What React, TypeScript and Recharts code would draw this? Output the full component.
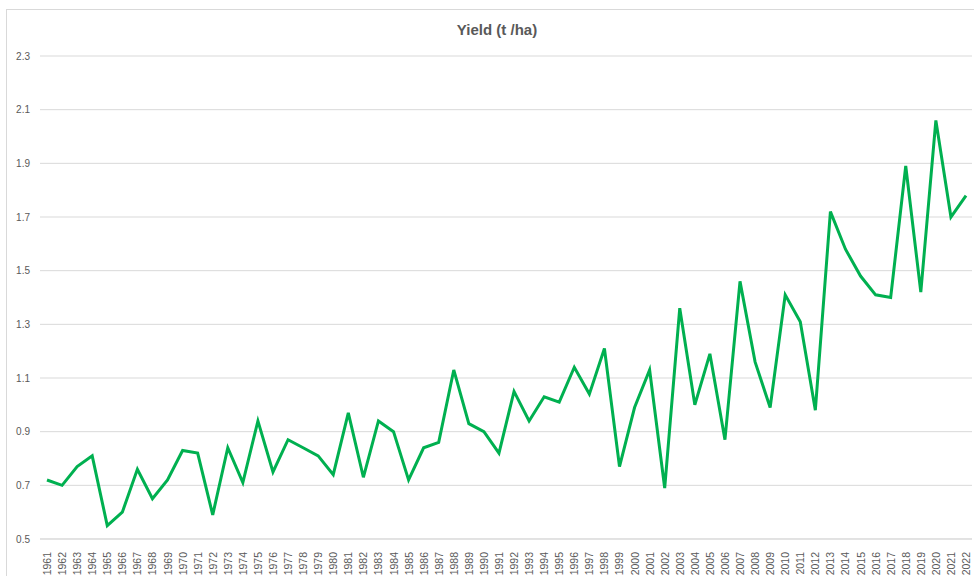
import React from 'react';
import { LineChart, Line, XAxis, YAxis, CartesianGrid } from 'recharts';

const years = [
  1961, 1962, 1963, 1964, 1965, 1966, 1967, 1968, 1969, 1970,
  1971, 1972, 1973, 1974, 1975, 1976, 1977, 1978, 1979, 1980,
  1981, 1982, 1983, 1984, 1985, 1986, 1987, 1988, 1989, 1990,
  1991, 1992, 1993, 1994, 1995, 1996, 1997, 1998, 1999, 2000,
  2001, 2002, 2003, 2004, 2005, 2006, 2007, 2008, 2009, 2010,
  2011, 2012, 2013, 2014, 2015, 2016, 2017, 2018, 2019, 2020,
  2021, 2022,
];

const yieldValues = [
  0.72, 0.70, 0.77, 0.81, 0.55, 0.60, 0.76, 0.65, 0.72, 0.83,
  0.82, 0.59, 0.84, 0.71, 0.94, 0.75, 0.87, 0.84, 0.81, 0.74,
  0.97, 0.73, 0.94, 0.90, 0.72, 0.84, 0.86, 1.13, 0.93, 0.90,
  0.82, 1.05, 0.94, 1.03, 1.01, 1.14, 1.04, 1.21, 0.77, 0.99,
  1.13, 0.69, 1.36, 1.00, 1.19, 0.87, 1.46, 1.16, 0.99, 1.41,
  1.31, 0.98, 1.72, 1.58, 1.48, 1.41, 1.40, 1.89, 1.42, 2.06,
  1.70, 1.78,
];

const yTicks = [0.5, 0.7, 0.9, 1.1, 1.3, 1.5, 1.7, 1.9, 2.1, 2.3];

const data = years.map((year, i) => ({ year: String(year), value: yieldValues[i] }));

const axisFont = '"Liberation Sans", Arial, sans-serif';

// rotated year labels, read bottom-to-top like Excel
function YearTick(props: any) {
  const { x, y, payload } = props;
  return (
    <text
      x={0}
      y={0}
      transform={`translate(${x},${y + 5}) rotate(-90)`}
      textAnchor="end"
      dominantBaseline="central"
      fontSize={10.5}
      fontFamily={axisFont}
      fill="#595959"
    >
      {payload.value}
    </text>
  );
}

export default function App() {
  return (
    <div style={{ position: 'absolute', left: 0, top: 0, width: 974, height: 576, background: '#fff', overflow: 'hidden' }}>
      <div
        style={{
          position: 'absolute',
          left: 6,
          top: 9,
          width: 1000,
          height: 600,
          border: '1px solid #d9d9d9',
        }}
      />
      <div
        style={{
          position: 'absolute',
          left: 0,
          top: 21,
          width: 994,
          textAlign: 'center',
          fontFamily: axisFont,
          fontWeight: 'bold',
          fontSize: 15,
          color: '#595959',
        }}
      >
        Yield (t /ha)
      </div>
      <LineChart
        width={974}
        height={576}
        data={data}
        margin={{ top: 56, right: 2, bottom: 0, left: 0 }}
        style={{ position: 'absolute', left: 0, top: 0 }}
      >
        <CartesianGrid vertical={false} stroke="#d9d9d9" />
        <XAxis
          dataKey="year"
          interval={0}
          height={37}
          padding={{ left: 7, right: 6 }}
          axisLine={{ stroke: '#d9d9d9' }}
          tickLine={false}
          tick={<YearTick />}
        />
        <YAxis
          type="number"
          domain={[0.5, 2.3]}
          ticks={yTicks}
          width={40}
          axisLine={false}
          tickLine={false}
          tickSize={0}
          tickMargin={10}
          tickFormatter={(v: number) => v.toFixed(1)}
          tick={{ fontSize: 10, fill: '#595959', fontFamily: axisFont }}
        />
        <Line
          type="linear"
          dataKey="value"
          stroke="#00b050"
          strokeWidth={3}
          dot={false}
          isAnimationActive={false}
        />
      </LineChart>
    </div>
  );
}
